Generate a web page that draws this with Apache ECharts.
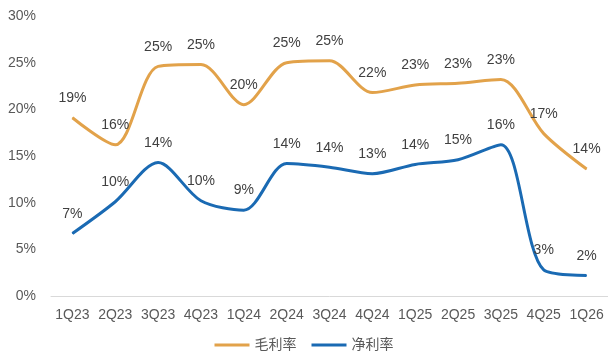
<!DOCTYPE html>
<html><head><meta charset="utf-8">
<script src="https://cdn.jsdelivr.net/npm/echarts@6/dist/echarts.min.js"></script>
<style>html,body{margin:0;padding:0;background:#fff}#c{width:608px;height:360px}</style>
</head><body><div id="c"></div>
<script>
const categories = ['1Q23','2Q23','3Q23','4Q23','1Q24','2Q24','3Q24','4Q24','1Q25','2Q25','3Q25','4Q25','1Q26'];
const grossMargin = [19.1, 16.2, 24.6, 24.8, 20.5, 25.0, 25.2, 21.8, 22.6, 22.8, 23.2, 17.4, 13.6];
const netMargin = [6.7, 10.1, 14.3, 10.2, 9.2, 14.2, 13.8, 13.1, 14.1, 14.6, 16.2, 2.8, 2.2];
const grossLabels = ['19%','16%','25%','25%','20%','25%','25%','22%','23%','23%','23%','17%','14%'];
const netLabels = ['7%','10%','14%','10%','9%','14%','14%','13%','14%','15%','16%','3%','2%'];
const yTicks = [0,5,10,15,20,25,30];

const font = '"Liberation Sans", Arial, "Noto Sans CJK SC", sans-serif';
const chart = echarts.init(document.getElementById('c'));
function mk(name, data, labels, color){
  return {
    name, type:'line', smooth:0.3, data, symbol:'circle', symbolSize:1, showSymbol:true,
    lineStyle:{width:3, color}, itemStyle:{color},
    labelLayout:{hideOverlap:false},
    label:{show:true, position:'top', distance:12, color:'#404040', fontSize:14, fontFamily:font,
      formatter:p=>labels[p.dataIndex]}
  };
}
chart.setOption({
  animation:false,
  grid:{left:51, right:0, top:16, bottom:64},
  legend:{bottom:3, left:'center', itemWidth:35, itemHeight:3, itemGap:15,
    icon:'rect', textStyle:{color:'#595959', fontSize:14, fontFamily:font},
    data:['毛利率','净利率']},
  xAxis:{type:'category', data:categories, boundaryGap:true,
    axisLine:{lineStyle:{color:'#d9d9d9', width:1}}, axisTick:{show:false},
    axisLabel:{color:'#595959', fontSize:14, fontFamily:font, margin:12, interval:0}},
  yAxis:{type:'value', min:yTicks[0], max:yTicks[yTicks.length-1], interval:5,
    splitLine:{show:false}, axisLine:{show:false}, axisTick:{show:false},
    axisLabel:{color:'#595959', fontSize:14, fontFamily:font, margin:15, formatter:v=>v+'%'}},
  series:[mk('毛利率', grossMargin, grossLabels, '#E2A24A'), mk('净利率', netMargin, netLabels, '#1A6AB3')]
});
</script></body></html>
